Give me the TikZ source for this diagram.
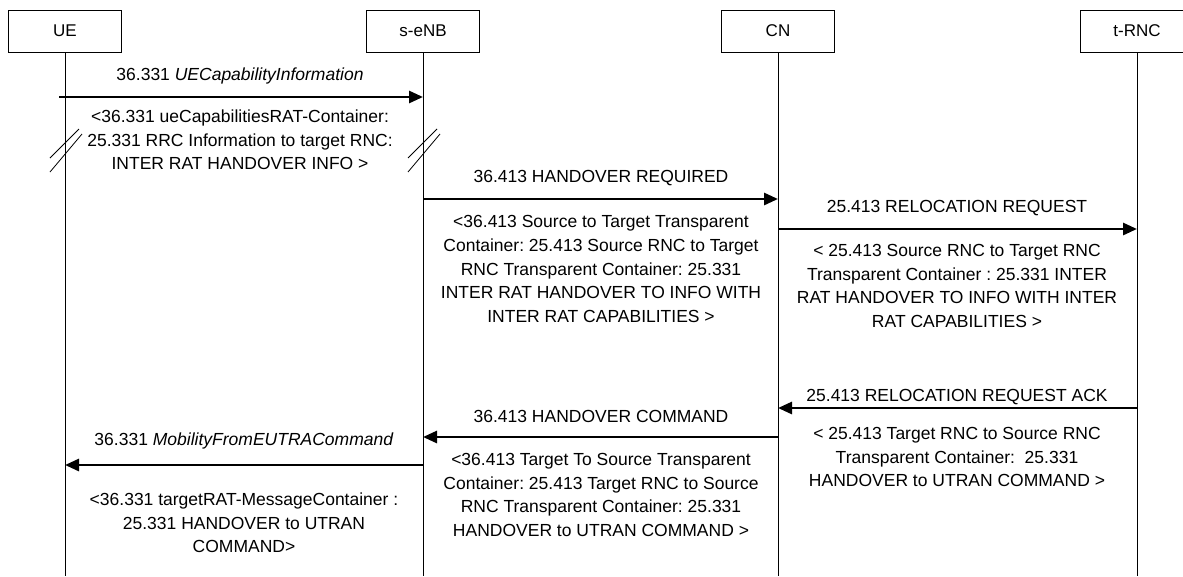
\documentclass[tikz,border=0pt]{standalone}
\usepackage{fontspec}
\setmainfont{Liberation Sans}
\usetikzlibrary{arrows.meta, positioning, calc}
\frenchspacing

\begin{document}
\begin{tikzpicture}[
  x=1pt, y=-1pt,
  entity/.style={rectangle, draw, line width=0.8pt, minimum width=113pt, minimum height=42pt, font=\fontsize{17}{20}\selectfont},
  life/.style={line width=0.8pt},
  msg/.style={-{Triangle[length=14pt, width=12pt]}, line width=2.8pt},
  msglabel/.style={font=\fontsize{17.5}{20}\selectfont},
  note/.style={align=center, font=\fontsize{17.5}{23.7}\selectfont},
  brk/.style={line width=0.8pt},
]
\useasboundingbox (0,0) rectangle (1183,576);

% Entities
\node[entity] (ue)  at (65,31)   {UE};
\node[entity] (enb) at (423,31)  {s-eNB};
\node[entity] (cn)  at (778,31)  {CN};
\node[entity] (rnc) at (1137,31) {t-RNC};

% Lifelines
\coordinate (floor) at (0,576);
\foreach \n in {ue,enb,cn,rnc}
  \draw[life] (\n.south) -- (\n.south |- floor);

% Message end points
\coordinate (m1a) at (59,97);    \coordinate (m1b) at (enb.south |- 0,97);
\coordinate (m2a) at (enb.south |- 0,199); \coordinate (m2b) at (cn.south |- 0,199);
\coordinate (m3a) at (cn.south |- 0,229);  \coordinate (m3b) at (rnc.south |- 0,229);
\coordinate (m4a) at (rnc.south |- 0,408); \coordinate (m4b) at (cn.south |- 0,408);
\coordinate (m5a) at (cn.south |- 0,437);  \coordinate (m5b) at (enb.south |- 0,437);
\coordinate (m6a) at (enb.south |- 0,465); \coordinate (m6b) at (ue.south |- 0,465);

% Messages
\draw[msg] (m1a) -- (m1b);
\draw[msg] (m2a) -- (m2b);
\draw[msg] (m3a) -- (m3b);
\draw[msg] (m4a) -- (m4b);
\draw[msg] (m5a) -- (m5b);
\draw[msg] (m6a) -- (m6b);

% Labels
\node[msglabel] (l1) at (240,76)  {36.331 \textit{UECapabilityInformation}};
\node[note]     (n1) at (240,140) {<36.331 ueCapabilitiesRAT-Container:\\25.331 RRC Information to target RNC:\\INTER RAT HANDOVER INFO >};

\node[msglabel] (l2) at (601,178) {36.413 HANDOVER REQUIRED};
\node[note]     (n2) at (601,269) {<36.413 Source to Target Transparent\\Container: 25.413 Source RNC to Target\\RNC Transparent Container: 25.331\\INTER RAT HANDOVER TO INFO WITH\\INTER RAT CAPABILITIES >};

\node[msglabel] (l3) at (957,208) {25.413 RELOCATION REQUEST};
\node[note]     (n3) at (957,286) {< 25.413 Source RNC to Target RNC\\Transparent Container : 25.331 INTER\\RAT HANDOVER TO INFO WITH INTER\\RAT CAPABILITIES >};

\node[msglabel] (l4) at (957,397) {25.413 RELOCATION REQUEST ACK};
\node[note]     (n4) at (957,457) {< 25.413 Target RNC to Source RNC\\Transparent Container:\ \ 25.331\\HANDOVER to UTRAN COMMAND >};

\node[msglabel] (l5) at (601,416) {36.413 HANDOVER COMMAND};
\node[note]     (n5) at (601,495) {<36.413 Target To Source Transparent\\Container: 25.413 Target RNC to Source\\RNC Transparent Container: 25.331\\HANDOVER to UTRAN COMMAND >};

\node[msglabel] (l6) at (244,441) {36.331 \textit{MobilityFromEUTRACommand}};
\node[note]     (n6) at (244,523) {<36.331 targetRAT-MessageContainer :\\25.331 HANDOVER to UTRAN\\COMMAND>};

% Break marks
\coordinate (ue-brk)  at (ue.south |- 0,150);
\coordinate (enb-brk) at (enb.south |- 0,150);
\foreach \n in {ue-brk,enb-brk} {
  \draw[brk] (\n) ++(-15,8) -- ++(29,-29);
  \draw[brk] (\n) ++(-15,22) -- ++(32,-38);
}

\end{tikzpicture}
\end{document}
